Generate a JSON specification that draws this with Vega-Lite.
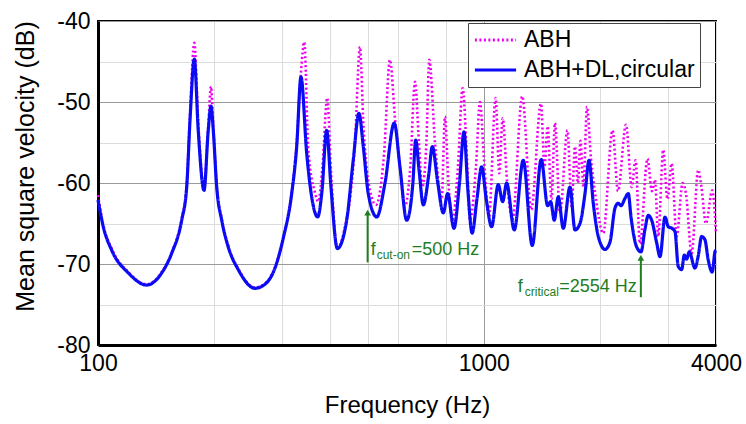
{
  "$schema": "https://vega.github.io/schema/vega-lite/v6.json",
  "width": 618,
  "height": 324,
  "autosize": {"type": "none"},
  "padding": {"left": 98, "top": 21, "right": 30, "bottom": 79},
  "background": "white",
  "config": {
    "font": "Liberation Sans",
    "view": {"stroke": "black", "strokeWidth": 2},
    "axis": {"labelFont": "Liberation Sans", "titleFont": "Liberation Sans", "labelColor": "black", "titleColor": "black", "titleFontWeight": "normal", "domainColor": "black", "domainWidth": 3, "ticks": false, "gridWidth": 1}
  },
  "datasets": {
    "blue": [
      {"f": 100, "db": -62.1}, {"f": 103.2, "db": -65.4}, {"f": 108.5, "db": -68.3}, {"f": 119.8, "db": -71.1}, {"f": 133.7, "db": -72.6}, {"f": 146.3, "db": -71.1}, {"f": 155.2, "db": -68.7}, {"f": 164.8, "db": -64.6}, {"f": 169.8, "db": -60.5}, {"f": 173.2, "db": -52.2}, {"f": 177.7, "db": -44.7}, {"f": 181.9, "db": -53.5}, {"f": 188.3, "db": -60.9}, {"f": 193.1, "db": -53.5}, {"f": 196.3, "db": -50.5}, {"f": 199, "db": -53.5}, {"f": 203.1, "db": -60.5}, {"f": 209.3, "db": -64.6}, {"f": 217.6, "db": -67.9}, {"f": 231, "db": -70.7}, {"f": 255.3, "db": -73.0}, {"f": 271, "db": -72.5}, {"f": 287.6, "db": -70.5}, {"f": 302.2, "db": -66.8}, {"f": 317.8, "db": -61.3}, {"f": 327.4, "db": -55.5}, {"f": 335.9, "db": -46.9}, {"f": 347.5, "db": -56.3}, {"f": 358.0, "db": -61.7}, {"f": 371.1, "db": -64.2}, {"f": 380.7, "db": -61}, {"f": 391.5, "db": -53.5}, {"f": 401.7, "db": -60.5}, {"f": 417.3, "db": -68.1}, {"f": 441.2, "db": -64.6}, {"f": 458.8, "db": -57.2}, {"f": 474.8, "db": -51.4}, {"f": 487.2, "db": -55.5}, {"f": 501.9, "db": -61.3}, {"f": 527.9, "db": -64.2}, {"f": 554.6, "db": -60}, {"f": 586.1, "db": -52.6}, {"f": 606.4, "db": -58}, {"f": 631.2, "db": -64.6}, {"f": 655, "db": -60}, {"f": 666.2, "db": -54.7}, {"f": 680, "db": -58.5}, {"f": 697.1, "db": -62.7}, {"f": 720, "db": -59}, {"f": 735.6, "db": -55.5}, {"f": 760, "db": -60}, {"f": 785.3, "db": -63.7}, {"f": 806.2, "db": -61.3}, {"f": 837.1, "db": -65.6}, {"f": 865, "db": -60}, {"f": 888.6, "db": -53.7}, {"f": 910, "db": -61}, {"f": 933.0, "db": -66.2}, {"f": 960, "db": -62}, {"f": 987.6, "db": -58.0}, {"f": 1015, "db": -62}, {"f": 1048.3, "db": -65.4}, {"f": 1090.4, "db": -60.2}, {"f": 1119.4, "db": -62.3}, {"f": 1146.5, "db": -60.0}, {"f": 1199.7, "db": -65.8}, {"f": 1265.8, "db": -57.2}, {"f": 1335.6, "db": -67.7}, {"f": 1409.3, "db": -57.1}, {"f": 1464.3, "db": -62.8}, {"f": 1490.9, "db": -62.3}, {"f": 1523.2, "db": -64.6}, {"f": 1560.1, "db": -61.7}, {"f": 1607.5, "db": -65.6}, {"f": 1673.2, "db": -60.5}, {"f": 1723.8, "db": -65.8}, {"f": 1776.1, "db": -65.0}, {"f": 1830.0, "db": -61.3}, {"f": 1874.3, "db": -57.2}, {"f": 1922.8, "db": -62.5}, {"f": 1981.2, "db": -66.6}, {"f": 2062.0, "db": -68.2}, {"f": 2124.4, "db": -67.3}, {"f": 2188.8, "db": -63.1}, {"f": 2232.2, "db": -62.5}, {"f": 2268.4, "db": -62.8}, {"f": 2323.4, "db": -61.9}, {"f": 2369.8, "db": -61.3}, {"f": 2408.3, "db": -64.2}, {"f": 2491.2, "db": -67.9}, {"f": 2556.3, "db": -68.5}, {"f": 2617.7, "db": -65.7}, {"f": 2670.1, "db": -64.0}, {"f": 2724.7, "db": -64.6}, {"f": 2807.5, "db": -67.4}, {"f": 2863.0, "db": -69.1}, {"f": 2950.0, "db": -64.2}, {"f": 3008.3, "db": -65.4}, {"f": 3075.5, "db": -65.6}, {"f": 3131.2, "db": -66.0}, {"f": 3193.1, "db": -70.3}, {"f": 3258.9, "db": -70.7}, {"f": 3309.6, "db": -68.9}, {"f": 3357.2, "db": -69.4}, {"f": 3410.0, "db": -68.5}, {"f": 3527.4, "db": -70.5}, {"f": 3597.8, "db": -69.0}, {"f": 3671.4, "db": -66.6}, {"f": 3744.0, "db": -67.0}, {"f": 3818.9, "db": -69.5}, {"f": 3911.4, "db": -71.0}, {"f": 3975, "db": -68.5}, {"f": 4000, "db": -68.3}
    ],
    "magenta": [
      {"f": 100, "db": -61.5}, {"f": 103.2, "db": -65.2}, {"f": 108.5, "db": -68.1}, {"f": 119.8, "db": -71.0}, {"f": 133.7, "db": -72.5}, {"f": 146.3, "db": -71.0}, {"f": 155.2, "db": -68.6}, {"f": 164.8, "db": -64.4}, {"f": 169.8, "db": -60.2}, {"f": 173.2, "db": -51.5}, {"f": 177.7, "db": -42.7}, {"f": 181.9, "db": -52.5}, {"f": 188.3, "db": -60.7}, {"f": 193.1, "db": -53}, {"f": 196.3, "db": -48.1}, {"f": 199, "db": -53}, {"f": 203.1, "db": -60.4}, {"f": 209.3, "db": -64.5}, {"f": 217.6, "db": -67.8}, {"f": 231, "db": -70.6}, {"f": 255.3, "db": -72.9}, {"f": 271, "db": -72.4}, {"f": 287.6, "db": -70.4}, {"f": 302.2, "db": -66.7}, {"f": 317.8, "db": -61.2}, {"f": 327.4, "db": -55.0}, {"f": 335.9, "db": -46.3}, {"f": 342.5, "db": -42.6}, {"f": 350.9, "db": -55.9}, {"f": 365.2, "db": -61.2}, {"f": 372.4, "db": -62.3}, {"f": 381.8, "db": -58}, {"f": 392.9, "db": -49.5}, {"f": 401.7, "db": -58.5}, {"f": 417.3, "db": -68.0}, {"f": 441.2, "db": -64.4}, {"f": 450, "db": -62}, {"f": 463.7, "db": -55}, {"f": 477.6, "db": -43.2}, {"f": 487.8, "db": -53}, {"f": 501, "db": -59.5}, {"f": 525.7, "db": -62.7}, {"f": 551.3, "db": -56.5}, {"f": 571.3, "db": -44.8}, {"f": 588.6, "db": -52}, {"f": 606.4, "db": -58}, {"f": 624.7, "db": -62.9}, {"f": 645, "db": -58}, {"f": 663.4, "db": -47.5}, {"f": 679.2, "db": -55}, {"f": 692.9, "db": -60.5}, {"f": 710, "db": -55}, {"f": 722.4, "db": -44.8}, {"f": 747.4, "db": -55}, {"f": 777.9, "db": -62.1}, {"f": 793.3, "db": -51.8}, {"f": 810, "db": -60}, {"f": 828.7, "db": -64.8}, {"f": 857.3, "db": -58}, {"f": 881.7, "db": -48.3}, {"f": 904.7, "db": -57}, {"f": 920.9, "db": -64.6}, {"f": 954.5, "db": -58}, {"f": 977.6, "db": -50.0}, {"f": 1001.2, "db": -57}, {"f": 1031.5, "db": -64.2}, {"f": 1073.5, "db": -49.5}, {"f": 1096.9, "db": -58.8}, {"f": 1119.4, "db": -52.0}, {"f": 1150, "db": -60}, {"f": 1187, "db": -64.5}, {"f": 1258.3, "db": -49.3}, {"f": 1327.7, "db": -63.3}, {"f": 1407, "db": -50.2}, {"f": 1437, "db": -58}, {"f": 1464.3, "db": -53.0}, {"f": 1498, "db": -62}, {"f": 1529.6, "db": -52.6}, {"f": 1576, "db": -63.7}, {"f": 1648, "db": -53.5}, {"f": 1690, "db": -62.9}, {"f": 1723.8, "db": -55.5}, {"f": 1754.6, "db": -60}, {"f": 1781.4, "db": -54.8}, {"f": 1813.7, "db": -60.5}, {"f": 1851.7, "db": -50.6}, {"f": 1896.8, "db": -57}, {"f": 1953.9, "db": -62}, {"f": 2040.8, "db": -66.2}, {"f": 2156.4, "db": -53.5}, {"f": 2228, "db": -61}, {"f": 2337.3, "db": -52.8}, {"f": 2418.3, "db": -60.5}, {"f": 2474, "db": -57.2}, {"f": 2540.6, "db": -67.5}, {"f": 2657.2, "db": -57.0}, {"f": 2729, "db": -61}, {"f": 2778.4, "db": -59.6}, {"f": 2833.8, "db": -66.6}, {"f": 2919.5, "db": -55.9}, {"f": 2993.6, "db": -62}, {"f": 3069.4, "db": -57.6}, {"f": 3162, "db": -66.6}, {"f": 3277.7, "db": -60.0}, {"f": 3343, "db": -61.3}, {"f": 3458.4, "db": -68.7}, {"f": 3597.8, "db": -58.4}, {"f": 3667, "db": -60.5}, {"f": 3766.5, "db": -65}, {"f": 3911, "db": -60.9}, {"f": 4000, "db": -66.2}
    ]
  },
  "encoding": {
    "x": {
      "field": "f", "type": "quantitative",
      "scale": {"type": "log", "domain": [100, 4000], "nice": false},
      "axis": {
        "title": "Frequency (Hz)", "titleFontSize": 24, "titleBaseline": "alphabetic", "titleY": 67,
        "values": [100, 200, 300, 400, 500, 600, 800, 1000, 2000, 3000, 4000],
        "labelExpr": "(datum.value == 100 || datum.value == 1000 || datum.value == 4000) ? '' + datum.value : ''",
        "labelFontSize": 23, "labelPadding": 7, "labelFlush": false, "labelOverlap": false,
        "gridColor": {"condition": {"test": "datum.value == 1000", "value": "#9a9a9a"}, "value": "#dcdcdc"}
      }
    },
    "y": {
      "field": "db", "type": "quantitative",
      "scale": {"domain": [-80, -40], "nice": false, "zero": false},
      "axis": {
        "title": "Mean square velocity (dB)", "titleFontSize": 25, "titleBaseline": "alphabetic", "titleX": -65, "titleY": 145, "titleAngle": -90,
        "values": [-80, -75, -70, -65, -60, -55, -50, -45, -40],
        "labelExpr": "datum.value % 10 === 0 ? '' + datum.value : ''",
        "labelFontSize": 23, "labelPadding": 8, "labelBaseline": "middle", "labelOverlap": false,
        "gridColor": {"condition": {"test": "datum.value % 10 === 0", "value": "#9a9a9a"}, "value": "#dcdcdc"}
      }
    }
  },
  "layer": [
    {
      "data": {"name": "magenta"},
      "transform": [{"calculate": "'ABH'", "as": "s"}],
      "mark": {"type": "line", "interpolate": "monotone", "strokeWidth": 2.6, "strokeCap": "butt"},
      "encoding": {
        "color": {"field": "s", "type": "nominal", "scale": {"domain": ["ABH", "ABH+DL,circular"], "range": ["#f000f0", "#0a0af5"]},
          "legend": {"orient": "none", "legendX": 370, "legendY": 2, "title": null, "labelFontSize": 23, "labelColor": "black", "labelFont": "Liberation Sans", "symbolType": "stroke", "symbolSize": 1700, "symbolStrokeWidth": 3, "fillColor": "white", "strokeColor": "#444", "padding": 5, "rowPadding": 6, "clipHeight": 24, "labelOffset": 6, "labelLimit": 400}},
        "strokeDash": {"field": "s", "type": "nominal", "scale": {"domain": ["ABH", "ABH+DL,circular"], "range": [[2, 2.5], [1, 0]]}}
      }
    },
    {
      "data": {"name": "blue"},
      "transform": [{"calculate": "'ABH+DL,circular'", "as": "s"}],
      "mark": {"type": "line", "interpolate": "monotone", "strokeWidth": 3.2},
      "encoding": {
        "color": {"field": "s", "type": "nominal"},
        "strokeDash": {"field": "s", "type": "nominal"}
      }
    },
    {
      "data": {"values": [{"f": 500, "db": -69.8, "db2": -63.7}, {"f": 2554, "db": -74.1, "db2": -69.3}]},
      "mark": {"type": "rule", "color": "#1e7d1e", "strokeWidth": 2},
      "encoding": {"y2": {"field": "db2"}}
    },
    {
      "data": {"values": [{"f": 500, "db": -63.65}, {"f": 2554, "db": -69.25}]},
      "mark": {"type": "point", "shape": "triangle-up", "filled": true, "size": 45, "color": "#1e7d1e", "opacity": 1},
      "encoding": {}
    },
    {
      "data": {"values": [{"f": 500, "db": -68.95, "t": "f"}]},
      "mark": {"type": "text", "align": "left", "baseline": "alphabetic", "dx": 3, "fontSize": 18, "color": "#1e7d1e"},
      "encoding": {"text": {"field": "t"}}
    },
    {
      "data": {"values": [{"f": 500, "db": -68.95, "t": "cut-on"}]},
      "mark": {"type": "text", "align": "left", "baseline": "alphabetic", "dx": 9, "dy": 4, "fontSize": 12, "color": "#1e7d1e"},
      "encoding": {"text": {"field": "t"}}
    },
    {
      "data": {"values": [{"f": 500, "db": -68.95, "t": "=500 Hz"}]},
      "mark": {"type": "text", "align": "left", "baseline": "alphabetic", "dx": 44, "fontSize": 18, "color": "#1e7d1e"},
      "encoding": {"text": {"field": "t"}}
    },
    {
      "data": {"values": [{"f": 2554, "db": -73.5, "t": "=2554 Hz"}]},
      "mark": {"type": "text", "align": "right", "baseline": "alphabetic", "dx": -4, "fontSize": 18, "color": "#1e7d1e"},
      "encoding": {"text": {"field": "t"}}
    },
    {
      "data": {"values": [{"f": 2554, "db": -73.5, "t": "critical"}]},
      "mark": {"type": "text", "align": "right", "baseline": "alphabetic", "dx": -82, "dy": 4, "fontSize": 12, "color": "#1e7d1e"},
      "encoding": {"text": {"field": "t"}}
    },
    {
      "data": {"values": [{"f": 2554, "db": -73.5, "t": "f"}]},
      "mark": {"type": "text", "align": "right", "baseline": "alphabetic", "dx": -118, "fontSize": 18, "color": "#1e7d1e"},
      "encoding": {"text": {"field": "t"}}
    }
  ]
}
